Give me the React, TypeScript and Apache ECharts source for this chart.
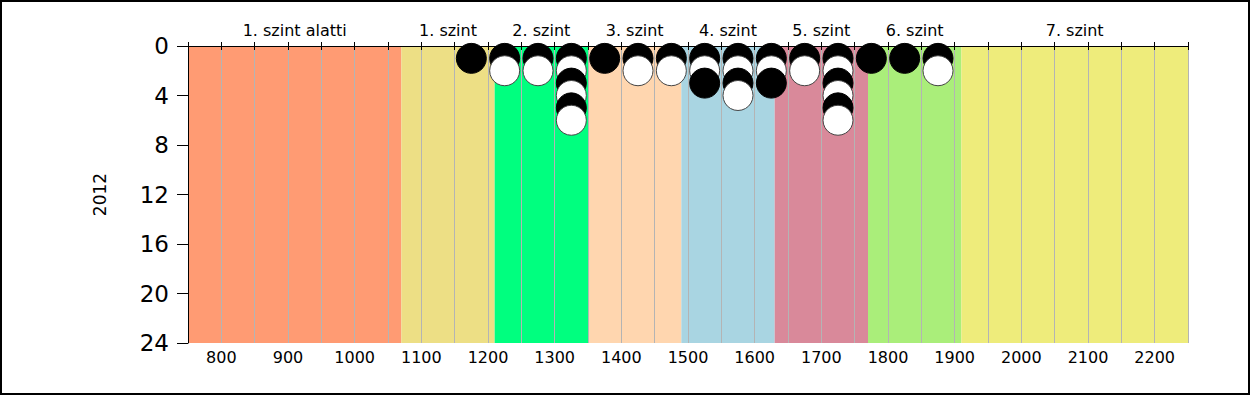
import React, { useEffect, useRef } from "react";
import * as echarts from "echarts";

const bandNames = ["1. szint alatti", "1. szint", "2. szint", "3. szint", "4. szint", "5. szint", "6. szint", "7. szint"];
const bandStarts = [750, 1070, 1210, 1350, 1490, 1630, 1770, 1910];
const bandEnds = [1070, 1210, 1350, 1490, 1630, 1770, 1910, 2250];
const bandColors = ["#FF9B73", "#EDDF85", "#00FF7F", "#FFD6AF", "#A9D5E2", "#D9899A", "#AAEE7A", "#EEEC7B"];

// dot positions (score bin centre, stack position), ordered bottom layer first
const pointX = [
  1175, 1225, 1275, 1325, 1375, 1425, 1475, 1525, 1575, 1625, 1675, 1725, 1775, 1825, 1875,
  1225, 1275, 1325, 1425, 1475, 1525, 1575, 1625, 1675, 1725, 1875,
  1325, 1525, 1575, 1625, 1725,
  1325, 1575, 1725,
  1325, 1725,
  1325, 1725,
];
const pointY = [
  1, 1, 1, 1, 1, 1, 1, 1, 1, 1, 1, 1, 1, 1, 1,
  2, 2, 2, 2, 2, 2, 2, 2, 2, 2, 2,
  3, 3, 3, 3, 3,
  4, 4, 4,
  5, 5,
  6, 6,
];

const yAxisName = "2012";
const FONT = "'DejaVu Sans', Verdana, sans-serif";

export default function App() {
  const ref = useRef<HTMLDivElement>(null);
  useEffect(() => {
    if (!ref.current) return;
    const chart = echarts.init(ref.current, undefined, { renderer: "svg" });
    const bandData = bandStarts.map((s, i) => [s, bandEnds[i], i]);
    const dotData = pointX.map((x, i) => ({
      value: [x, pointY[i]],
      itemStyle:
        pointY[i] % 2 === 1
          ? { color: "#000000", borderColor: "#000000", borderWidth: 1, opacity: 1 }
          : { color: "#FFFFFF", borderColor: "#444444", borderWidth: 1, opacity: 1 },
    }));
    chart.setOption({
      animation: false,
      textStyle: { fontFamily: FONT },
      grid: { left: 188, right: 62, top: 46, bottom: 52, containLabel: false },
      graphic: [
        {
          type: "rect",
          shape: { x: 1, y: 1, width: 1248, height: 393 },
          style: { fill: "none", stroke: "#000", lineWidth: 2 },
          z: 100,
        },
      ],
      xAxis: [
        {
          type: "value",
          position: "bottom",
          min: 750,
          max: 2250,
          interval: 50,
          z: 3,
          axisLine: { show: true, lineStyle: { color: "#000", width: 1 } },
          axisTick: { show: true, length: 4, lineStyle: { color: "#000" } },
          axisLabel: {
            color: "#000",
            fontSize: 16,
            fontFamily: FONT,
            margin: 6,
            formatter: (v: number) => (v % 100 === 0 ? String(v) : ""),
          },
          splitLine: { show: true, lineStyle: { color: "#B4B4B4", width: 1 } },
        },
        {
          type: "value",
          position: "top",
          min: 750,
          max: 2250,
          interval: 50,
          z: 3,
          axisLine: { show: true, lineStyle: { color: "#000", width: 1 } },
          axisTick: { show: true, length: 4, lineStyle: { color: "#000" } },
          axisLabel: { show: false },
          splitLine: { show: false },
        },
      ],
      yAxis: {
        type: "value",
        inverse: true,
        min: 0,
        max: 24,
        interval: 4,
        z: 3,
        name: yAxisName,
        nameLocation: "middle",
        nameGap: 80,
        nameRotate: 90,
        nameTextStyle: { color: "#000", fontSize: 17, fontFamily: FONT },
        axisLine: { show: true, lineStyle: { color: "#000", width: 1 } },
        axisTick: { show: true, length: 11, lineStyle: { color: "#000" } },
        axisLabel: { color: "#000", fontSize: 23, fontFamily: FONT, margin: 19 },
        splitLine: { show: false },
      },
      series: [
        {
          type: "custom",
          z: 1,
          clip: false,
          xAxisIndex: 0,
          yAxisIndex: 0,
          encode: { x: [0, 1] },
          data: bandData,
          renderItem: (params: any, api: any) => {
            const s = api.value(0);
            const e = api.value(1);
            const idx = api.value(2);
            const p1 = api.coord([s, 0]);
            const p2 = api.coord([e, 24]);
            return {
              type: "group",
              children: [
                {
                  type: "rect",
                  shape: { x: p1[0], y: p1[1], width: p2[0] - p1[0], height: p2[1] - p1[1] },
                  style: { fill: bandColors[idx] },
                },
                {
                  type: "text",
                  x: (p1[0] + p2[0]) / 2,
                  y: p1[1] - 16,
                  style: {
                    text: bandNames[idx],
                    fill: "#000",
                    fontSize: 16,
                    fontFamily: FONT,
                    align: "center",
                    verticalAlign: "middle",
                  },
                },
              ],
            };
          },
        },
        {
          type: "scatter",
          z: 10,
          symbol: "circle",
          symbolSize: 30,
          itemStyle: { opacity: 1 },
          data: dotData,
        },
      ],
    });
    return () => chart.dispose();
  }, []);
  return <div ref={ref} style={{ position: "absolute", left: 0, top: 0, width: 1250, height: 395 }} />;
}
